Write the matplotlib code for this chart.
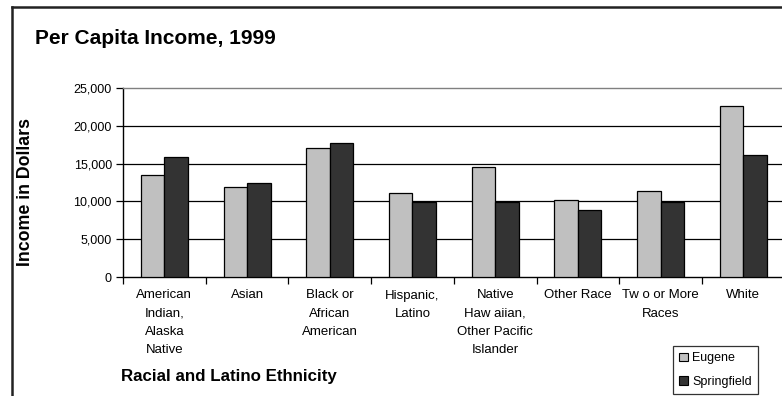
import matplotlib
matplotlib.use("Agg")
import matplotlib.pyplot as plt
from matplotlib.lines import Line2D
from matplotlib.patches import Patch
from matplotlib.ticker import FuncFormatter, FixedLocator, NullFormatter

plt.rcParams['font.family'] = ['Liberation Sans', 'DejaVu Sans']

categories = [
    "American\nIndian,\nAlaska\nNative",
    "Asian",
    "Black or\nAfrican\nAmerican",
    "Hispanic,\nLatino",
    "Native\nHaw aiian,\nOther Pacific\nIslander",
    "Other Race",
    "Tw o or More\nRaces",
    "White",
]
eugene = [13500, 11900, 17100, 11150, 14600, 10150, 11400, 22600]
springfield = [15900, 12500, 17700, 9900, 9900, 8800, 9900, 16200]
series_names = ["Eugene", "Springfield"]
y_ticks = [0, 5000, 10000, 15000, 20000, 25000]

W, H = 782, 396
fig = plt.figure(figsize=(W / 100, H / 100), dpi=100)
fig.patch.set_facecolor("white")

# plot area in pixel units
left_px, right_px, top_px, bottom_px = 123, 784.7, 88, 277
ax = fig.add_axes([left_px / W, 1 - bottom_px / H,
                   (right_px - left_px) / W, (bottom_px - top_px) / H])

x = list(range(len(categories)))
bw = 0.284
ax.bar([i - bw for i in x], eugene, width=bw, align="edge",
       color="#C0C0C0", edgecolor="black", linewidth=0.9, zorder=3)
ax.bar(x, springfield, width=bw, align="edge",
       color="#333333", edgecolor="black", linewidth=0.9, zorder=3)

ax.set_xlim(-0.5, len(categories) - 0.5)
ax.set_ylim(0, 25000)

ax.yaxis.set_major_locator(FixedLocator(y_ticks))
ax.yaxis.set_major_formatter(FuncFormatter(lambda v, p: f"{int(v):,}"))
for v in y_ticks[1:-1]:
    ax.axhline(v, color="black", linewidth=0.9, zorder=1)

# category boundaries carry the tick marks, labels sit at centres
ax.xaxis.set_major_locator(FixedLocator([i - 0.5 for i in range(len(categories) + 1)]))
ax.xaxis.set_major_formatter(NullFormatter())
ax.xaxis.set_minor_locator(FixedLocator(x))
ax.set_xticklabels(categories, minor=True, fontsize=9.5, linespacing=1.68,
                   va="top")
ax.tick_params(axis="x", which="minor", length=0, pad=9)
ax.tick_params(axis="x", which="major", length=5, width=0.9, direction="out")
ax.tick_params(axis="y", length=5, width=0.9, direction="out", labelsize=9,
               pad=3)

for side in ["left", "bottom"]:
    ax.spines[side].set_color("black")
    ax.spines[side].set_linewidth(1.0)
ax.spines["top"].set_color("#808080")
ax.spines["top"].set_linewidth(1.0)
ax.spines["right"].set_visible(False)

# titles and axis captions
fig.text(35 / W, 1 - 38 / H, "Per Capita Income, 1999", fontsize=15,
         fontweight="bold", ha="left", va="center")
fig.text(26 / W, 1 - 192 / H, "Income in Dollars", fontsize=12.8,
         fontweight="bold", rotation=90, ha="center", va="center")
fig.text(229 / W, 1 - 377 / H, "Racial and Latino Ethnicity", fontsize=12.2,
         fontweight="bold", ha="center", va="center")

# legend
handles = [Patch(facecolor="#C0C0C0", edgecolor="black", linewidth=0.8),
           Patch(facecolor="#333333", edgecolor="black", linewidth=0.8)]
leg = fig.legend(handles, series_names, loc="upper left",
                 bbox_to_anchor=(673 / W, 1 - 346 / H), fontsize=9,
                 frameon=True, fancybox=False, edgecolor="black",
                 handlelength=0.7, handleheight=0.7, handletextpad=0.35,
                 borderpad=0.5, labelspacing=0.95, borderaxespad=0)
leg.get_frame().set_linewidth(0.9)

# chart border (top and left edges)
fig.add_artist(Line2D([12 / W, 1.0], [1 - 7 / H, 1 - 7 / H],
                      transform=fig.transFigure, color="#222222", linewidth=1.8))
fig.add_artist(Line2D([12 / W, 12 / W], [0, 1 - 7 / H],
                      transform=fig.transFigure, color="#222222", linewidth=1.8))

fig.savefig("out.png", dpi=100)
